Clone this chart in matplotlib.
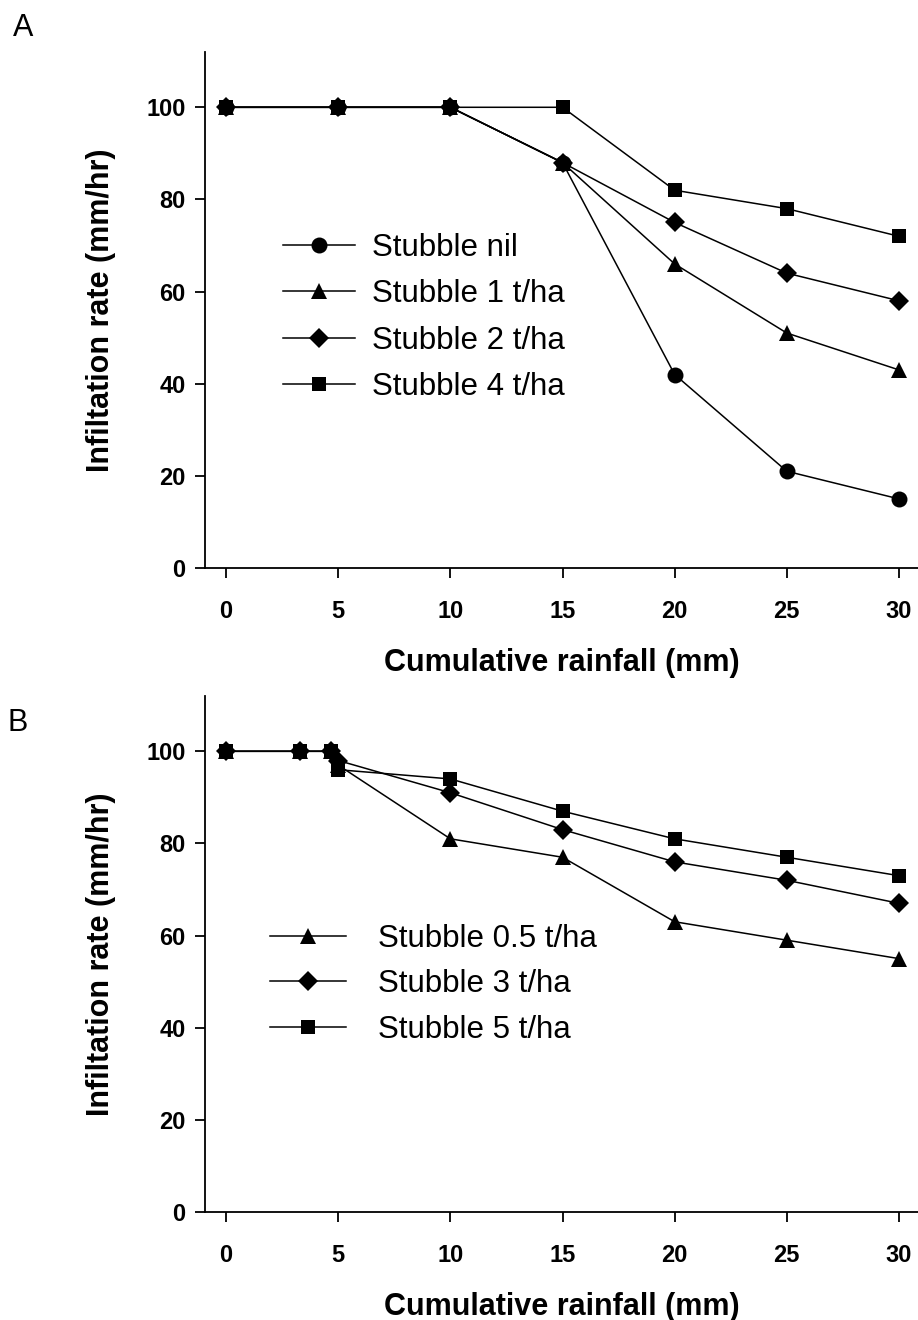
import numpy as np
import matplotlib
matplotlib.use("Agg")
import matplotlib.pyplot as plt

plt.rcParams["font.family"] = ["Liberation Sans", "DejaVu Sans"]

# Панель A: стерня 0, 1, 2, 4 т/га
rain_a = [0, 5, 10, 15, 20, 25, 30]
nil_a = [100, 100, 100, 88, 42, 21, 15]
t1_a = [100, 100, 100, 88, 66, 51, 43]
t2_a = [100, 100, 100, 88, 75, 64, 58]
t4_a = [100, 100, 100, 100, 82, 78, 72]
labels_a = ["Stubble nil", "Stubble 1 t/ha", "Stubble 2 t/ha", "Stubble 4 t/ha"]

# Панель B: стерня 0.5, 3, 5 т/га
rain_b = [0, 3.3, 4.7, 5, 10, 15, 20, 25, 30]
t05_b = [100, 100, 100, 97, 81, 77, 63, 59, 55]
t3_b = [100, 100, 100, 98, 91, 83, 76, 72, 67]
t5_b = [100, 100, 100, 96, 94, 87, 81, 77, 73]
labels_b = ["Stubble 0.5 t/ha", "Stubble 3 t/ha", "Stubble 5 t/ha"]

x_ticks = [0, 5, 10, 15, 20, 25, 30]
y_ticks = [0, 20, 40, 60, 80, 100]

W, H = 918, 1320
fig = plt.figure(figsize=(W / 100, H / 100), dpi=100)


def _axes(top_px, bottom_px):
    left, right = 205, 918
    return fig.add_axes([left / W, 1 - bottom_px / H, (right - left) / W, (bottom_px - top_px) / H])


def _style(ax):
    ax.set_xlim(-0.94, 30.85)
    ax.set_ylim(0, 112)
    ax.set_xticks(x_ticks)
    ax.set_yticks(y_ticks)
    for s in ["top", "right"]:
        ax.spines[s].set_visible(False)
    for s in ["left", "bottom"]:
        ax.spines[s].set_linewidth(1.3)
    ax.tick_params(direction="out", length=7, width=1.3, labelsize=17)
    ax.tick_params(axis="x", pad=16)
    ax.tick_params(axis="y", pad=7)
    for lbl in ax.get_xticklabels() + ax.get_yticklabels():
        lbl.set_fontweight("bold")
    ax.set_xlabel("Cumulative rainfall (mm)", fontsize=22, fontweight="bold", labelpad=18)
    ax.set_ylabel("Infiltation rate (mm/hr)", fontsize=22, fontweight="bold", labelpad=22)


kw = dict(color="black", linewidth=1.1, markeredgewidth=0)

ax_a = _axes(52, 568)
ax_a.plot(rain_a, nil_a, marker="o", markersize=11.5, label=labels_a[0], **kw)
ax_a.plot(rain_a, t1_a, marker="^", markersize=12, label=labels_a[1], **kw)
ax_a.plot(rain_a, t2_a, marker="D", markersize=10, label=labels_a[2], **kw)
ax_a.plot(rain_a, t4_a, marker="s", markersize=10, label=labels_a[3], **kw)
_style(ax_a)
ax_a.legend(loc="upper left", bbox_to_anchor=(0.11, 0.65), frameon=False, fontsize=22.5,
            handlelength=2.3, handletextpad=0.55, labelspacing=0.53, borderpad=0, borderaxespad=0)

ax_b = _axes(696, 1212)
ax_b.plot(rain_b, t05_b, marker="^", markersize=12, label=labels_b[0], **kw)
ax_b.plot(rain_b, t3_b, marker="D", markersize=10, label=labels_b[1], **kw)
ax_b.plot(rain_b, t5_b, marker="s", markersize=10, label=labels_b[2], **kw)
_style(ax_b)
ax_b.legend(loc="upper left", bbox_to_anchor=(0.091, 0.559), frameon=False, fontsize=22.5,
            handlelength=2.45, handletextpad=1.0, labelspacing=0.5, borderpad=0, borderaxespad=0)

fig.text(13 / W, 1 - 28 / H, "A", fontsize=22, va="center", ha="left")
fig.text(7 / W, 1 - 723 / H, "B", fontsize=22, va="center", ha="left")

fig.savefig("out.png", dpi=100)
